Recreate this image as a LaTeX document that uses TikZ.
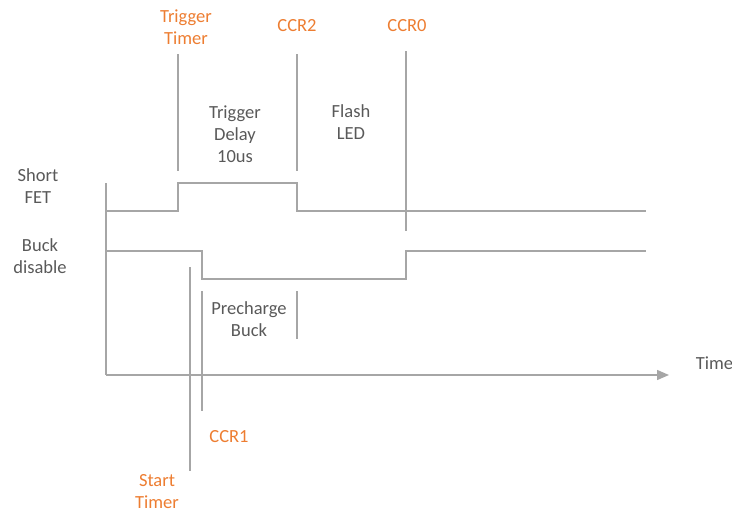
\documentclass[tikz,border=0pt]{standalone}
\usepackage{fontspec}
\setmainfont{Carlito}
\usetikzlibrary{arrows.meta}
\definecolor{wavegray}{RGB}{166,166,166}
\definecolor{textgray}{RGB}{89,89,89}
\definecolor{eventorange}{RGB}{237,125,49}

\begin{document}
\begin{tikzpicture}[x=1pt, y=-1pt, line width=1.5pt, line cap=butt, line join=miter,
  font=\fontsize{18.5}{22}\selectfont,
  wave/.style={draw=wavegray},
  lbl/.style={text=textgray, align=center, inner sep=0pt},
  evt/.style={text=eventorange, align=center, inner sep=0pt}]
\useasboundingbox (0,0) rectangle (732,514);

% ---------- axes ----------
\coordinate (origin) at (106,375);
\coordinate (ytop) at (106,183);
\coordinate (tend) at (669,375);
\draw[wave] (ytop) -- (origin);
\draw[wave, -{Triangle[length=12pt,width=10pt]}] (origin) -- (tend);
\node[lbl, anchor=west] (time) at (695,363) {Time};

% ---------- signals ----------
\draw[wave] (106,211) -- (178,211) -- (178,183) -- (297,183) -- (297,211) -- (646,211);
\draw[wave] (106,251) -- (202,251) -- (202,279) -- (406,279) -- (406,251) -- (646,251);
\node[lbl] (shortfet) at (38,186) {Short\\FET};
\node[lbl] (buckdis) at (40,256) {Buck\\disable};

% ---------- event markers ----------
\draw[wave] (178,54) -- (178,171);
\draw[wave] (297,54) -- (297,171);
\draw[wave] (406,51) -- (406,231);
\draw[wave] (190,267) -- (190,471);
\draw[wave] (202,291) -- (202,411);
\draw[wave] (297,291) -- (297,339);

\node[evt] (trigtimer) at (186,27) {Trigger\\Timer};
\node[evt] (ccrtwo) at (297,26) {CCR2};
\node[evt] (ccrzero) at (407,26) {CCR0};
\node[evt] (ccrone) at (229,437) {CCR1};
\node[evt] (starttimer) at (157,492) {Start\\Timer};

% ---------- phases ----------
\node[lbl] (trigdelay) at (235,134) {Trigger\\Delay\\10us};
\node[lbl] (flash) at (351,122) {Flash\\LED};
\node[lbl] (precharge) at (249,319) {Precharge\\Buck};

\end{tikzpicture}
\end{document}
